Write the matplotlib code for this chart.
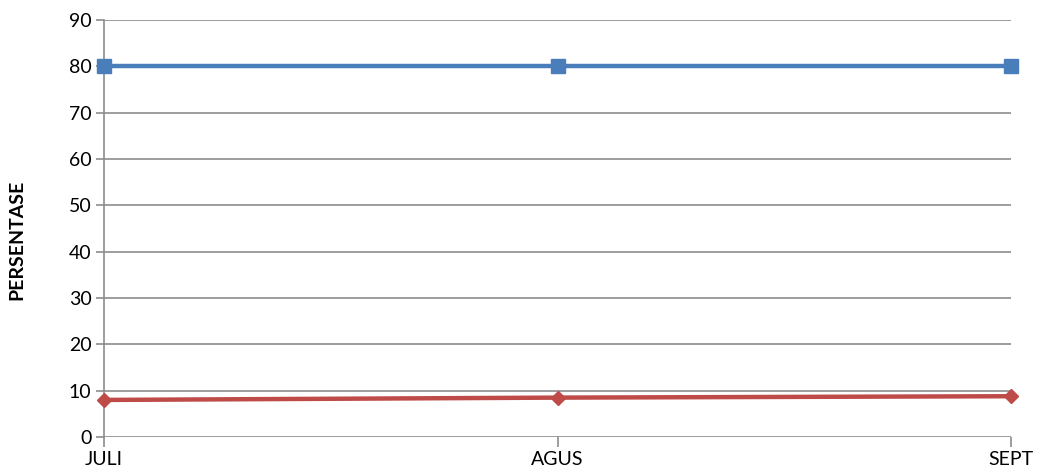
import matplotlib
matplotlib.use('Agg')
import matplotlib.pyplot as plt

plt.rcParams['font.family'] = ['Lato', 'DejaVu Sans']

bulan = ['JULI', 'AGUS', 'SEPT']
seri_biru = [80, 80, 80]
seri_merah = [8, 8.5, 8.8]
yticks = list(range(0, 91, 10))

fig = plt.figure(figsize=(10.41, 4.75), dpi=100)
ax = fig.add_axes([104/1041, 38/475, (1011-104)/1041, (437-20)/475])

x = list(range(len(bulan)))
ax.plot(x, seri_biru, color='#4A7EBB', lw=3.2, marker='s', ms=9.5, zorder=3, clip_on=False)
ax.plot(x, seri_merah, color='#BE4B48', lw=3.2, marker='D', ms=7, zorder=3, clip_on=False)

ax.set_xlim(0, 2)
ax.set_ylim(0, 90)
ax.set_yticks(yticks)
ax.set_xticks(x)
ax.set_xticklabels(bulan)
ax.grid(axis='y', color='#8C8C8C', lw=1.2)
ax.set_axisbelow(True)
for s in ['top', 'right', 'bottom']:
    ax.spines[s].set_visible(False)
ax.spines['left'].set_color('#8C8C8C')
ax.spines['left'].set_linewidth(1.2)
ax.tick_params(axis='y', length=6, width=1.2, color='#8C8C8C', labelsize=14, pad=3)
ax.tick_params(axis='x', length=7, width=1.2, color='#8C8C8C', labelsize=14, pad=3)
ax.set_ylabel('PERSENTASE', fontsize=14, fontweight='bold')
ax.yaxis.set_label_coords(-0.087, 0.472)

fig.savefig('out.png', dpi=100)
